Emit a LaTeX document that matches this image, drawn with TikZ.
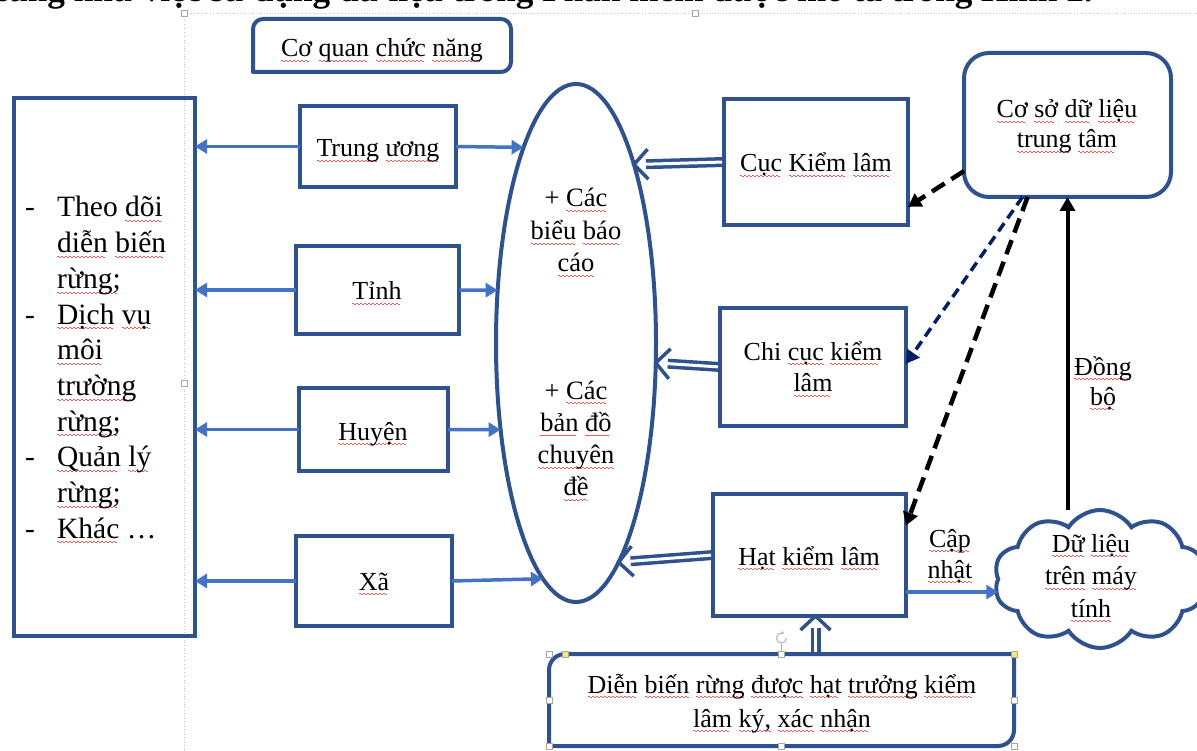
\documentclass[tikz,border=0pt]{standalone}
\usepackage{fontspec}
\setmainfont{Liberation Serif}
\usetikzlibrary{arrows.meta,shapes.geometric,shapes.symbols,calc,decorations.markings}
\definecolor{bxc}{RGB}{47,82,143}
\definecolor{arrc}{RGB}{68,114,196}
\definecolor{nvc}{RGB}{0,32,96}
\definecolor{sqc}{RGB}{235,90,90}
\definecolor{hdly}{RGB}{255,228,120}
\newsavebox\sqbox
\newcommand\sq[1]{\sbox\sqbox{#1}\rlap{\color{sqc}\leaders\hbox to 4pt{\rule[-4pt]{2pt}{0.8pt}\rule[-5pt]{2pt}{0.8pt}}\hskip\wd\sqbox}\usebox\sqbox}
\newcommand\ctab[1]{\vtop{\halign{\hfil##\hfil\cr#1\crcr}}}
\newcommand\ltab[1]{\vtop{\halign{##\hfil\cr#1\crcr}}}
\newcommand\dd{\hbox to 32pt{-\hfil}}
\newcommand\nd{\hbox to 32pt{\hfil}}
\begin{document}
\begin{tikzpicture}[x=1pt,y=-1pt,
  shp/.style={inner sep=0pt,outer sep=0pt},
  bx/.style={shp,draw=bxc,line width=4pt},
  bxl/.style={draw=bxc,line width=4pt,line join=round},
  txt/.style={inner sep=0pt,outer sep=0pt,anchor=base,font=\fontsize{26}{33}\selectfont},
  ba/.style={draw=arrc,line width=3.5pt,-{Triangle[length=12pt,width=14pt]}},
  dbl/.style={draw=bxc,line width=10pt,shorten >=12pt,
    postaction={draw=white,line width=3pt,shorten >=5pt,shorten <=2pt},
    postaction={decorate,decoration={markings,mark=at position 1 with
      {\draw[bxc,line width=3.5pt,line join=miter,line cap=butt,shorten >=0pt,shorten <=0pt] (-14,15) -- (0,0) -- (-14,-15);}}}},
  dsh/.style={line width=4.5pt,dash pattern=on 15pt off 8pt,-{Triangle[length=13pt,width=15pt]}},
  guide/.style={draw=gray!45,line width=0.7pt,dotted},
  hdl/.style={draw=gray!70,fill=white,line width=0.6pt,minimum size=6pt,inner sep=0pt,outer sep=0pt}
]
\useasboundingbox (0,0) rectangle (1197,751);

% page guides
\draw[guide] (184,751) -- (184,13) -- (1197,13);
\node[hdl] (g1) at (184,13) {};
\node[hdl] (g2) at (695,13) {};
\node[hdl] (g3) at (184,383) {};

% cut heading line
\node[inner sep=0pt,anchor=base east,font=\bfseries\fontsize{35.2}{35.2}\selectfont] (hd) at (1093,2)
  {cũng như việc sử dụng dữ liệu trong Phần mềm được mô tả trong Hình 2.};

% boxes
\node[shp,minimum width=258pt,minimum height=53pt] (cq) at (382,45.5) {};
\draw[bxl] (cq.south west) -- ([yshift=-10pt]cq.north west) arc[start angle=180,end angle=270,radius=10]
  -- ([xshift=-10pt]cq.north east) arc[start angle=270,end angle=360,radius=10]
  -- ([yshift=10pt]cq.south east) arc[start angle=0,end angle=90,radius=10] -- cycle;
\node[txt] (cqt) at (382,57) {\sq{Cơ} \sq{quan} \sq{chức} \sq{năng}};

\node[bx,minimum width=181.5pt,minimum height=538pt] (lb) at (104.25,367) {};
\node[inner sep=0pt,anchor=base west,font=\fontsize{29.5}{35.67}\selectfont] (lbt) at (25,217)
  {\ltab{\dd Theo \sq{dõi}\cr \nd\sq{diễn} \sq{biến}\cr \nd\sq{rừng;}\cr \dd\sq{Dịch} \sq{vụ}\cr \nd\sq{môi}\cr \nd\sq{trường}\cr \nd\sq{rừng;}\cr \dd\sq{Quản} \sq{lý}\cr \nd\sq{rừng;}\cr \dd\sq{Khác} …}};

\node[bx,minimum width=156pt,minimum height=81pt] (tw) at (378,146.5) {};
\node[txt] (twt) at (378,157) {\sq{Trung} \sq{ương}};
\node[bx,minimum width=163pt,minimum height=88pt] (ti) at (377.5,290) {};
\node[txt] (tit) at (377,300) {\sq{Tỉnh}};
\node[bx,minimum width=149pt,minimum height=83pt] (hu) at (373.5,429.5) {};
\node[txt] (hut) at (373,440) {\sq{Huyện}};
\node[bx,minimum width=156pt,minimum height=90pt] (xa) at (374,581) {};
\node[txt] (xat) at (374,590) {\sq{Xã}};

\node[bx,ellipse,minimum width=160pt,minimum height=518pt] (el) at (576,343) {};
\node[txt,font=\fontsize{26.5}{32.5}\selectfont] (e1) at (576,207) {\ctab{+ \sq{Các}\cr \sq{biểu} \sq{báo}\cr \sq{cáo}}};
\node[txt,font=\fontsize{26.5}{32.3}\selectfont] (e2) at (576,399) {\ctab{+ \sq{Các}\cr \sq{bản} \sq{đồ}\cr \sq{chuyên}\cr \sq{đề}}};

\node[bx,minimum width=184pt,minimum height=126pt] (cuc) at (816,162) {};
\node[txt] (cuct) at (816,172) {\sq{Cục} \sq{Kiểm} \sq{lâm}};
\node[bx,minimum width=186pt,minimum height=118pt] (chi) at (813,367) {};
\node[txt,font=\fontsize{26}{32}\selectfont] (chit) at (813,360) {\ctab{Chi \sq{cục} \sq{kiểm}\cr \sq{lâm}}};
\node[bx,minimum width=193pt,minimum height=122pt] (hat) at (809.5,555) {};
\node[txt] (hatt) at (809,565) {\sq{Hạt} \sq{kiểm} \sq{lâm}};

\node[bx,rounded corners=25pt,minimum width=207pt,minimum height=144pt] (cs) at (1067.5,125) {};
\node[txt,font=\fontsize{26}{30}\selectfont] (cst) at (1067,118) {\ctab{\sq{Cơ} \sq{sở} \sq{dữ} \sq{liệu}\cr \sq{trung} \sq{tâm}}};

\node[bx,cloud,cloud puffs=10,cloud puff arc=115,aspect=1.5,minimum width=212pt,minimum height=138pt,fill=white] (cl) at (1100,579) {};
\node[txt,font=\fontsize{26}{32.5}\selectfont] (clt) at (1091,552) {\ctab{\sq{Dữ} \sq{liệu}\cr \sq{trên} \sq{máy}\cr \sq{tính}}};

\node[shp,minimum width=465pt,minimum height=92pt] (bot) at (781.5,700) {};
\draw[bxl] (bot.south west) -- ([yshift=-16pt]bot.north west) arc[start angle=180,end angle=270,radius=16]
  -- (bot.north east) -- ([yshift=16pt]bot.south east) arc[start angle=0,end angle=90,radius=16] -- cycle;
\node[txt,font=\fontsize{26}{34}\selectfont] (bott) at (782,693) {\ctab{\sq{Diễn} \sq{biến} \sq{rừng} \sq{được} \sq{hạt} \sq{trưởng} \sq{kiểm}\cr \sq{lâm} \sq{ký,} \sq{xác} \sq{nhận}}};

% labels
\node[txt,font=\fontsize{26}{30}\selectfont] (dbt) at (1103,375) {\ctab{\sq{Đồng}\cr \sq{bộ}}};
\node[txt,font=\fontsize{26}{31}\selectfont] (cnt) at (950,547) {\ctab{\sq{Cập}\cr \sq{nhật}}};

% arrows left
\draw[ba] (tw.west) -- (lb.east |- tw.west);
\draw[ba] (ti.west) -- (lb.east |- ti.west);
\draw[ba] (hu.west) -- (lb.east |- hu.west);
\draw[ba] (xa.west) -- (lb.east |- xa.west);
% arrows to ellipse
\draw[ba] (tw.east) -- (el.105.7);
\draw[ba] (ti.east) -- (el.146);
\draw[ba] (hu.east) -- (el.229.2);
\draw[ba] (xa.east) -- (el.262.1);
% double arrows
\draw[dbl] (cuc.west) -- (el.72.7);
\draw[dbl] (chi.west) -- (el.346);
\draw[dbl] (hat.west) -- (el.281);
\draw[dbl] ([xshift=6pt]hat.south |- bot.north) -- ([xshift=6pt]hat.south);
% dashed
\draw[dsh,black] (cs.204.2) -- (cuc.-26.3);
\draw[dsh,nvc,line width=3.5pt,dash pattern=on 10pt off 6pt] (cs.238.6) -- (chi.2);
\draw[dsh,black] (cs.241) -- (hat.17);
% sync arrow
\draw[line width=4pt,-{Triangle[length=14pt,width=15pt]}] (cs.south |- cl.north) -- (cs.south);
% update arrow
\draw[ba] (hat.-21.3) -- (hat.-21.3 -| cl.west);

% selection handles of bottom box
\draw[gray!60,line width=0.8pt] (bot.north) -- ++(0,-10);
\draw[gray!55,line width=1.2pt,-{Stealth[length=3pt,width=4pt]}] ([yshift=16pt]bot.north) ++(5,0) arc[start angle=0,end angle=300,radius=5];
\foreach \a in {north west,north,west,east,south west,south,south east}
  \node[hdl] at (bot.\a) {};
\node[hdl,fill=hdly] (hy1) at ([xshift=16pt]bot.north west) {};
\node[hdl,fill=hdly] (hy2) at (bot.north east) {};
\end{tikzpicture}
\end{document}
